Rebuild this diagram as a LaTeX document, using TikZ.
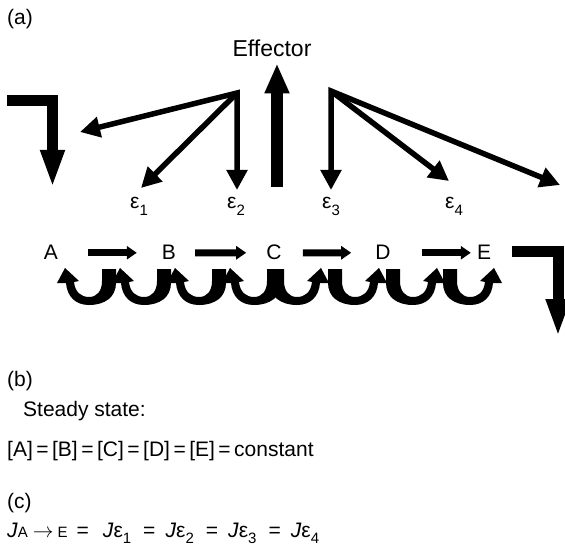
\documentclass[tikz,border=0pt]{standalone}
\usepackage{fontspec}
\setmainfont{Liberation Sans}
\usetikzlibrary{arrows.meta}
\newcommand{\lowidx}[1]{\raisebox{-0.33em}{\fontsize{15}{15}\selectfont #1}}
\newcommand{\smallsp}[1]{{\fontsize{15}{15}\selectfont #1}}

\begin{document}
\begin{tikzpicture}[x=1pt,y=-1pt]
  \tikzstyle{every node} = [inner sep=0pt,font=\fontsize{21}{25}\selectfont]
  \tikzstyle{fan} = [line width=5.5pt,>={Triangle[length=20pt,width=20pt]}]
  \tikzstyle{reaction} = [line width=7pt,-{Triangle[length=10pt,width=13pt]}]
  \tikzstyle{elbow} = [line width=11pt,-{Triangle[length=38pt,width=22pt]}]
  \tikzstyle{effect} = [line width=12pt,-{Triangle[length=30pt,width=23pt]}]
  \useasboundingbox (0,0) rectangle (565,548);

  % part (a)
  \node[anchor=base west] (la) at (7,25) {(a)};
  \node[anchor=base,font=\fontsize{23}{27}\selectfont] (eff) at (272,57) {Effector};
  \node[anchor=base west] (e1) at (130,209) {ε\lowidx{1}};
  \node[anchor=base west] (e2) at (227,209) {ε\lowidx{2}};
  \node[anchor=base west] (e3) at (322,209) {ε\lowidx{3}};
  \node[anchor=base west] (e4) at (445,209) {ε\lowidx{4}};
  \node[anchor=base] (A) at (51,260) {A};
  \node[anchor=base] (B) at (169,260) {B};
  \node[anchor=base] (C) at (274,260) {C};
  \node[anchor=base] (D) at (383,260) {D};
  \node[anchor=base] (E) at (484,260) {E};

  \coordinate (in) at (7,100.5);
  \coordinate (inbend) at (52.5,100.5);
  \coordinate (inend) at (52.5,188);
  \coordinate (out) at (512,251.5);
  \coordinate (outbend) at (558,251.5);
  \coordinate (outend) at (558,337);
  \draw[elbow] (in) -- (inbend) -- (inend);
  \draw[elbow] (out) -- (outbend) -- (outend);

  \coordinate (src1) at (237,93);
  \coordinate (src2) at (331,91);
  \coordinate (t1) at (80,132);
  \coordinate (t2) at (141,188);
  \coordinate (t3) at (237,190);
  \coordinate (t4) at (331,190);
  \coordinate (t5) at (449,181);
  \coordinate (t6) at (560,185);
  \draw[fan,<->] (t1) -- (src1) -- (t3);
  \draw[fan,->] (src1) -- (t2);
  \draw[fan,<->] (t4) -- (src2) -- (t6);
  \draw[fan,->] (src2) -- (t5);

  \coordinate (foot) at (277,187);
  \draw[effect] (foot) -- (foot |- eff.south) [shorten >=6pt];

  \draw[reaction,shorten <=30pt,shorten >=25pt] (A) -- (B);
  \draw[reaction,shorten <=19pt,shorten >=20pt] (B) -- (C);
  \draw[reaction,shorten <=21pt,shorten >=24pt] (C) -- (D);
  \draw[reaction,shorten <=31pt,shorten >=6pt] (D) -- (E);

  % cycling arrows below the chain
  \foreach \x in {89,144,199,254}
    \fill[shift={(\x,303)},yscale=-1] (27,34) -- (27,20) .. controls (27,6) and (16,-2) .. (0,-2)
      .. controls (-14,-2) and (-22,7) .. (-23,20) -- (-32,20) -- (-24,35) -- (-10,22) -- (-15,21)
      .. controls (-14,11) and (-8,6) .. (0,6) .. controls (8,6) and (13,12) .. (13,22) -- (13,34) -- cycle;
  \foreach \x in {297,355,413,470}
    \fill[shift={(\x,303)},xscale=-1,yscale=-1] (27,34) -- (27,20) .. controls (27,6) and (16,-2) .. (0,-2)
      .. controls (-14,-2) and (-22,7) .. (-23,20) -- (-32,20) -- (-24,35) -- (-10,22) -- (-15,21)
      .. controls (-14,11) and (-8,6) .. (0,6) .. controls (8,6) and (13,12) .. (13,22) -- (13,34) -- cycle;

  % parts (b) and (c)
  \node[anchor=base west] (lb) at (7,386) {(b)};
  \node[anchor=base west] (ss) at (23,416) {Steady state:};
  \node[anchor=base west] (eq) at (7,456) {[A]\,=\,[B]\,=\,[C]\,=\,[D]\,=\,[E]\,=\,constant};
  \node[anchor=base west] (lc) at (7,508) {(c)};
  \node[anchor=base west] (flux) at (7,537) {\textit{J}\smallsp{A}\hspace{5pt}$\rightarrow$\hspace{4pt}\smallsp{E}\hspace{9pt}=\hspace{14pt}\textit{J}ε\lowidx{1}\hspace{12pt}=\hspace{10pt}\textit{J}ε\lowidx{2}\hspace{12pt}=\hspace{10pt}\textit{J}ε\lowidx{3}\hspace{12pt}=\hspace{10pt}\textit{J}ε\lowidx{4}};
\end{tikzpicture}
\end{document}
